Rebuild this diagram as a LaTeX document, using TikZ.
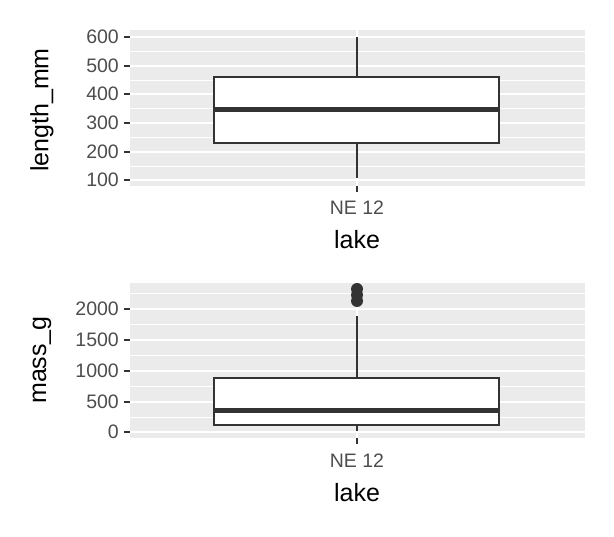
\documentclass[tikz,border=0pt]{standalone}
\usepackage{fontspec}
\setmainfont{Liberation Sans}
\definecolor{panelgray}{HTML}{EBEBEB}
\definecolor{boxline}{HTML}{333333}
\definecolor{ticktext}{HTML}{4D4D4D}
\tikzset{
    panel/.style = {fill=panelgray, draw=none},
    major-grid/.style = {white, line width=1.8pt},
    minor-grid/.style = {white, line width=0.9pt},
    tick-mark/.style = {boxline, line width=1.5pt},
    tick-label/.style = {text=ticktext, font=\fontsize{19.5}{19.5}\selectfont, anchor=east, inner sep=0pt},
    axis-title/.style = {font=\fontsize{25}{25}\selectfont, inner sep=0pt},
    box-body/.style = {draw=boxline, fill=white, line width=2.3pt},
    box-median/.style = {boxline, line width=5pt},
    whisker/.style = {boxline, line width=2.3pt},
}
\begin{document}
\begin{tikzpicture}[x=1pt, y=-1pt]
\useasboundingbox (0,0) rectangle (614,537);
% top panel: length
\fill[panel] (130,30) rectangle (585,186);
\foreach \y in {51.5,80,108.5,137.5,166} \draw[minor-grid] (130,\y) -- (585,\y);
\foreach \y/\lab in {37/600,66/500,94/400,123/300,152/200,180/100} {
    \draw[major-grid] (130,\y) -- (585,\y);
    \draw[tick-mark] (124,\y) -- (130,\y);
    \node[tick-label] at (119,\y) {\lab};
}
\draw[major-grid] (357,30) -- (357,186);
\draw[whisker] (357,37) -- (357,77);
\draw[whisker] (357,143) -- (357,178);
\draw[box-body] (214,77) rectangle (499,143);
\draw[box-median] (214,110) -- (499,110);
\draw[tick-mark] (357,186) -- (357,192);
\node[text=ticktext, font=\fontsize{19.5}{19.5}\selectfont] (lbl1) at (357,208) {NE 12};
\node[axis-title] (xt1) at (357,240) {lake};
\node[axis-title, rotate=90] (yt1) at (42,110) {length\_mm};
% bottom panel: mass
\fill[panel] (130,283) rectangle (585,438);
\foreach \y in {293.5,324.5,355.5,386.5,417} \draw[minor-grid] (130,\y) -- (585,\y);
\foreach \y/\lab in {309/2000,340/1500,371/1000,402/500,432/0} {
    \draw[major-grid] (130,\y) -- (585,\y);
    \draw[tick-mark] (124,\y) -- (130,\y);
    \node[tick-label] at (119,\y) {\lab};
}
\draw[major-grid] (357,283) -- (357,438);
\draw[whisker] (357,316) -- (357,378);
\draw[whisker] (357,425) -- (357,431);
\draw[box-body] (214,378) rectangle (499,425);
\draw[box-median] (214,411) -- (499,411);
\foreach \y in {289,295,301} \fill[boxline] (357,\y) circle (6);
\draw[tick-mark] (357,438) -- (357,444);
\node[text=ticktext, font=\fontsize{19.5}{19.5}\selectfont] (lbl2) at (357,461) {NE 12};
\node[axis-title] (xt2) at (357,493) {lake};
\node[axis-title, rotate=90] (yt2) at (42,360) {mass\_g};
\end{tikzpicture}
\end{document}
